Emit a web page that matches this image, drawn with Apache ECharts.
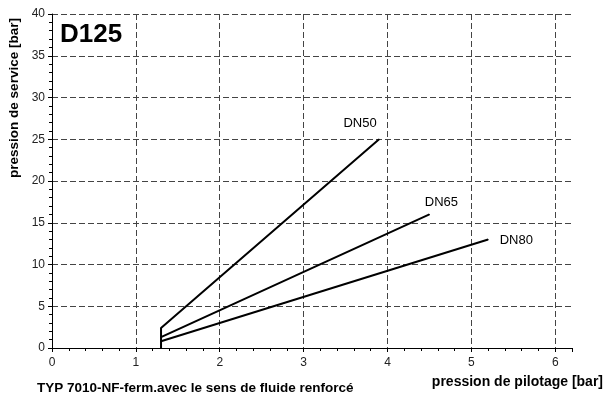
<!DOCTYPE html>
<html><head><meta charset="utf-8">
<script src="https://cdn.jsdelivr.net/npm/echarts@6/dist/echarts.min.js"></script>
<style>html,body{margin:0;padding:0;background:#fff}#c{width:608px;height:396px}</style>
</head><body><div id="c"></div>
<script>
const seriesNames = ['DN50', 'DN65', 'DN80'];
const dn50 = [[1.3, 0], [1.3, 2.4], [3.9, 25]];
const dn65 = [[1.3, 1.3], [4.5, 16]];
const dn80 = [[1.3, 0.8], [5.2, 13]];
const xTicks = [0, 1, 2, 3, 4, 5, 6];
const yTicks = [0, 5, 10, 15, 20, 25, 30, 35, 40];

const labelPos = [
  { position: 'top', dx: -19, dy: -4 },
  { position: 'top', dx: 12, dy: 0 },
  { position: 'right', dx: 6, dy: 1 }
];
const allData = [dn50, dn65, dn80];
const font = '"Liberation Sans", Arial, sans-serif';
const chart = echarts.init(document.getElementById('c'));
const series = allData.map((d, i) => ({
  name: seriesNames[i], type: 'line', symbol: 'circle', symbolSize: 1, showSymbol: true,
  showAllSymbol: true, animation: false,
  itemStyle: { color: '#000' },
  lineStyle: { color: '#000', width: 2 },
  labelLayout: { hideOverlap: false, dx: labelPos[i].dx, dy: labelPos[i].dy },
  data: d.map((p, j) => j === d.length - 1 ? {
    value: p,
    label: { show: true, formatter: seriesNames[i], position: labelPos[i].position,
      color: '#000', fontSize: 13, fontFamily: font }
  } : { value: p, label: { show: false } })
}));
chart.setOption({
  animation: false,
  grid: { left: 52, right: 36, top: 14, bottom: 48 },
  xAxis: {
    type: 'value', min: 0, max: 6.2, interval: 1,
    axisLine: { show: true, lineStyle: { color: '#000', width: 1 } },
    axisTick: { show: true, length: 4, lineStyle: { color: '#000' } },
    minorTick: { show: true, splitNumber: 5, length: 3, lineStyle: { color: '#000' } },
    axisLabel: { color: '#222', fontSize: 12, fontFamily: font, margin: 9,
      formatter: v => xTicks.includes(v) ? String(v) : '' },
    splitLine: { show: true, showMaxLine: false, lineStyle: { color: '#444', type: [6, 3], width: 1 } }
  },
  yAxis: {
    type: 'value', min: 0, max: 40, interval: 5,
    axisLine: { show: true, lineStyle: { color: '#000', width: 1 } },
    axisTick: { show: true, length: 4, lineStyle: { color: '#000' } },
    minorTick: { show: true, splitNumber: 5, length: 3, lineStyle: { color: '#000' } },
    axisLabel: { color: '#222', fontSize: 12, fontFamily: font, margin: 7,
      formatter: v => yTicks.includes(v) ? String(v) : '' },
    splitLine: { show: true, lineStyle: { color: '#444', type: [6, 3], width: 1 } }
  },
  series: series,
  graphic: [
    { type: 'text', left: 60, top: 22, style: { text: 'D125', font: 'bold 26px ' + font, fill: '#000' } },
    { type: 'text', x: 14, y: 98, rotation: Math.PI / 2, style: { text: 'pression de service [bar]',
      font: 'bold 13.5px ' + font, fill: '#000', align: 'center', verticalAlign: 'middle' } },
    { type: 'text', x: 603, y: 382, style: { text: 'pression de pilotage [bar]',
      font: 'bold 14px ' + font, fill: '#000', align: 'right', verticalAlign: 'middle' } },
    { type: 'text', x: 37, y: 388, style: { text: 'TYP 7010-NF-ferm.avec le sens de fluide renforcé',
      font: 'bold 13.5px ' + font, fill: '#000', align: 'left', verticalAlign: 'middle' } }
  ]
});
</script></body></html>
